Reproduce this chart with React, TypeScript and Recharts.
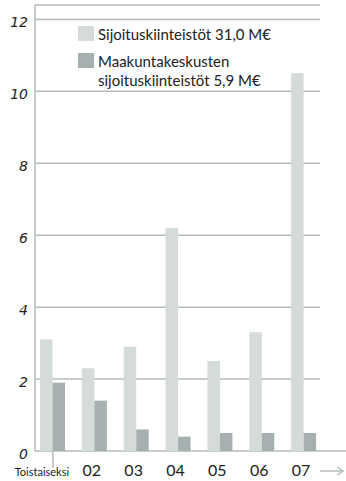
import { Bar, BarChart, CartesianGrid, Customized, XAxis, YAxis } from "recharts";

// Sijoituskiinteistöt vuosittain, M€
const vuodet = ["Toistaiseksi", "02", "03", "04", "05", "06", "07"];
const sijoituskiinteistot = [3.1, 2.3, 2.9, 6.2, 2.5, 3.3, 10.5];
const maakuntakeskusten = [1.9, 1.4, 0.6, 0.4, 0.5, 0.5, 0.5];
const yTicks = [0, 2, 4, 6, 8, 10, 12];

const sarjat = [
  { key: "sijoitus", nimi: ["Sijoituskiinteistöt 31,0 M€"], vari: "#d5dbd9" },
  { key: "maakunta", nimi: ["Maakuntakeskusten", "sijoituskiinteistöt 5,9 M€"], vari: "#a7b0b0" },
];

const data = vuodet.map((vuosi, i) => ({
  vuosi,
  sijoitus: sijoituskiinteistot[i],
  maakunta: maakuntakeskusten[i],
}));

const FONTTI = "Lato, 'Open Sans', sans-serif";
const VIIVA = "#b3bcbb";

function XTick(props: any) {
  const { x, y, payload, index } = props;
  const eka = index === 0;
  return (
    <g>
      {eka && <line x1={x} x2={x} y1={y - 8} y2={y + 9} stroke={VIIVA} strokeWidth={1.5} />}
      <text
        x={eka ? x - 11 : x - 3}
        y={y + 17}
        textAnchor="middle"
        fontFamily={FONTTI}
        fontSize={eka ? 11 : 16}
        fill="#222"
      >
        {payload.value}
      </text>
    </g>
  );
}

function YTick(props: any) {
  const { y, payload } = props;
  return (
    <text
      x={28}
      y={y + 8}
      textAnchor="end"
      style={{ fontFamily: "'DejaVu Sans', sans-serif", fontStyle: "italic", fontSize: 14 }}
      fill="#222"
    >
      {payload.value}
    </text>
  );
}

function Selite() {
  return (
    <div
      style={{
        position: "absolute",
        left: 78,
        top: 25,
        fontFamily: FONTTI,
        fontSize: 15,
        color: "#222",
        lineHeight: "19px",
      }}
    >
      {sarjat.map((s) => (
        <div key={s.key} style={{ display: "flex", alignItems: "flex-start", marginBottom: 8 }}>
          <span style={{ width: 16, height: 15, background: s.vari, marginRight: 4, marginTop: 1, flex: "none" }} />
          <span>
            {s.nimi.map((rivi) => (
              <div key={rivi}>{rivi}</div>
            ))}
          </span>
        </div>
      ))}
    </div>
  );
}

// x-akselin jatke oikealle ja nuoli
function Nuoli() {
  return (
    <g stroke={VIIVA} strokeWidth={1.5} fill="none">
      <line x1={320} x2={346} y1={451} y2={451} />
      <line x1={320} x2={343} y1={471} y2={471} />
      <polyline points="337,467 343,471 337,475" />
    </g>
  );
}

export default function App() {
  return (
    <div style={{ position: "absolute", left: 0, top: 0, width: 346, height: 481, background: "#fff" }}>
      <BarChart
        width={346}
        height={481}
        data={data}
        margin={{ top: 5, right: 26, left: 0, bottom: 0 }}
        barGap={0}
        barSize={12.5}
      >
        <CartesianGrid vertical={false} stroke={VIIVA} strokeWidth={1.5} />
        <XAxis
          dataKey="vuosi"
          height={30}
          axisLine={false}
          tickLine={false}
          interval={0}
          padding={{ left: -3, right: -5 }}
          tick={<XTick />}
        />
        <YAxis
          width={35}
          domain={[0, 12.4]}
          ticks={yTicks}
          axisLine={{ stroke: VIIVA, strokeWidth: 1.5 }}
          tickLine={false}
          tick={<YTick />}
        />
        <Customized component={<Nuoli />} />
        {sarjat.map((s) => (
          <Bar key={s.key} dataKey={s.key} fill={s.vari} isAnimationActive={false} />
        ))}
      </BarChart>
      <Selite />
    </div>
  );
}
